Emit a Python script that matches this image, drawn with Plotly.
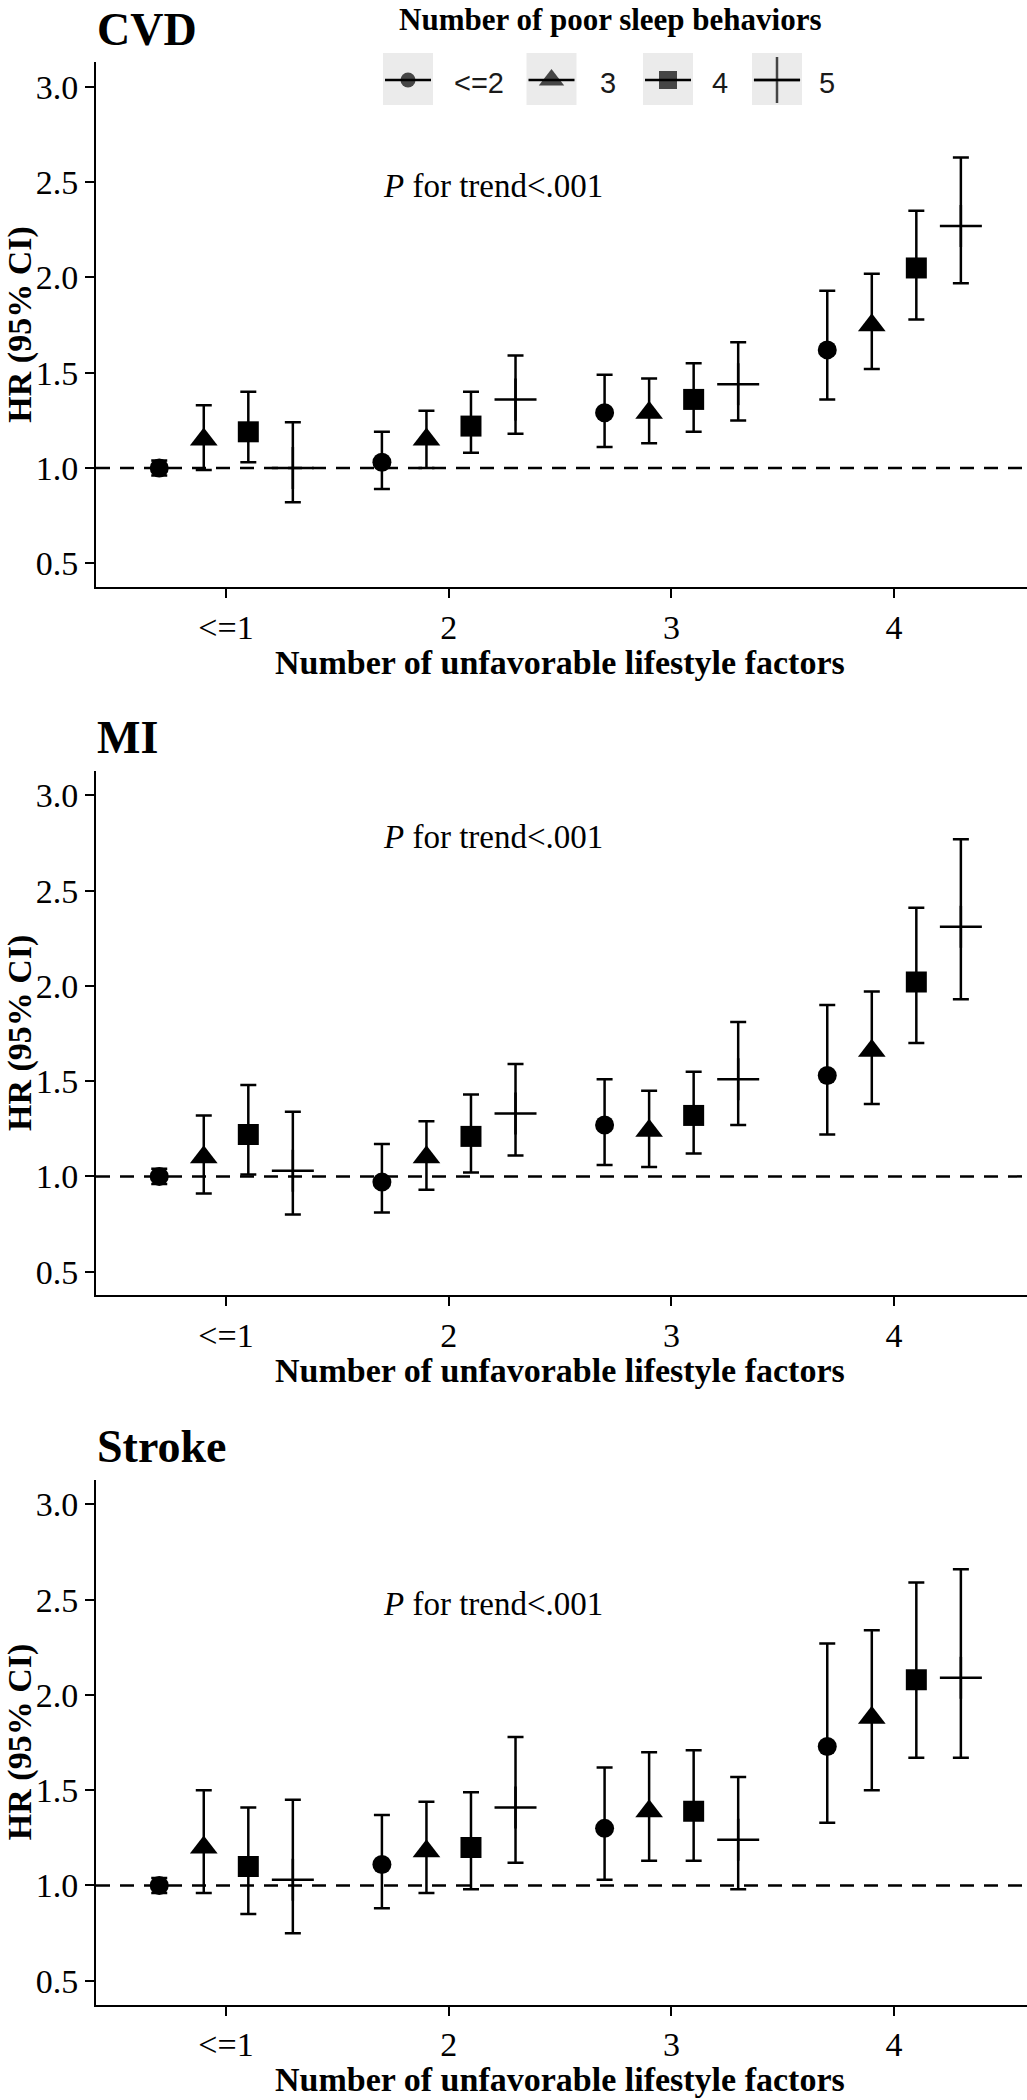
import plotly.graph_objects as go

W, H = 1027, 2100

# ---------------- data ----------------
lifestyle_labels = ["&lt;=1", "2", "3", "4"]
lifestyle_pos = [1, 2, 3, 4]
sleep_groups = ["&lt;=2", "3", "4", "5"]
dodge = [-0.3, -0.1, 0.1, 0.3]
panels = ["CVD", "MI", "Stroke"]

# CVD
cvd_hr = {"<=2": [1.00, 1.03, 1.29, 1.62], "3": [1.15, 1.15, 1.29, 1.75],
          "4": [1.19, 1.22, 1.36, 2.05], "5": [1.00, 1.36, 1.44, 2.27]}
cvd_lo = {"<=2": [0.96, 0.89, 1.11, 1.36], "3": [0.99, 1.00, 1.13, 1.52],
          "4": [1.03, 1.08, 1.19, 1.78], "5": [0.82, 1.18, 1.25, 1.97]}
cvd_hi = {"<=2": [1.04, 1.19, 1.49, 1.93], "3": [1.33, 1.30, 1.47, 2.02],
          "4": [1.40, 1.40, 1.55, 2.35], "5": [1.24, 1.59, 1.66, 2.63]}
# MI
mi_hr = {"<=2": [1.00, 0.97, 1.27, 1.53], "3": [1.10, 1.10, 1.24, 1.66],
         "4": [1.22, 1.21, 1.32, 2.02], "5": [1.03, 1.33, 1.51, 2.31]}
mi_lo = {"<=2": [0.96, 0.81, 1.06, 1.22], "3": [0.91, 0.93, 1.05, 1.38],
         "4": [1.01, 1.02, 1.12, 1.70], "5": [0.80, 1.11, 1.27, 1.93]}
mi_hi = {"<=2": [1.04, 1.17, 1.51, 1.90], "3": [1.32, 1.29, 1.45, 1.97],
         "4": [1.48, 1.43, 1.55, 2.41], "5": [1.34, 1.59, 1.81, 2.77]}
# Stroke
stroke_hr = {"<=2": [1.00, 1.11, 1.30, 1.73], "3": [1.20, 1.18, 1.39, 1.88],
             "4": [1.10, 1.20, 1.39, 2.08], "5": [1.03, 1.41, 1.24, 2.09]}
stroke_lo = {"<=2": [0.96, 0.88, 1.03, 1.33], "3": [0.96, 0.96, 1.13, 1.50],
             "4": [0.85, 0.98, 1.13, 1.67], "5": [0.75, 1.12, 0.98, 1.67]}
stroke_hi = {"<=2": [1.04, 1.37, 1.62, 2.27], "3": [1.50, 1.44, 1.70, 2.34],
             "4": [1.41, 1.49, 1.71, 2.59], "5": [1.45, 1.78, 1.57, 2.66]}

trend_text = "<i>P</i> for trend&lt;.001"
trend_y = [2.48, 2.78, 2.48]

y_ticks = [0.5, 1.0, 1.5, 2.0, 2.5, 3.0]
# --------------------------------------

panel_data = [(cvd_hr, cvd_lo, cvd_hi), (mi_hr, mi_lo, mi_hi), (stroke_hr, stroke_lo, stroke_hi)]
keys = ["<=2", "3", "4", "5"]
symbols = ["circle", "triangle-up", "square", "cross-thin"]
sizes = [19, 24, 21, 30]

SERIF = "Liberation Serif"
SANS = "Liberation Sans"

def px(y):
    return 1 - y / H

def pxx(x):
    return x / W

YR = [0.375, 3.13]
UNIT = 190.5
y3 = [87, 795.4, 1504.5]  # pixel row of the 3.0 tick per panel
dom = []
for t in y3:
    top = t - (YR[1] - 3.0) * UNIT
    bot = t + (3.0 - YR[0]) * UNIT
    dom.append((top, bot))

fig = go.Figure()
annotations = []
shapes = []

for p, (hr, lo, hi) in enumerate(panel_data):
    xa = "x" if p == 0 else f"x{p+1}"
    ya = "y" if p == 0 else f"y{p+1}"
    for g, k in enumerate(keys):
        xs = [c + dodge[g] for c in lifestyle_pos]
        ys = hr[k]
        up = [h - v for h, v in zip(hi[k], ys)]
        dn = [v - l for v, l in zip(ys, lo[k])]
        fig.add_trace(go.Scatter(
            x=xs, y=ys, mode="markers", xaxis=xa, yaxis=ya, showlegend=False,
            marker=dict(symbol=symbols[g], size=sizes[g], color="black",
                        line=dict(color="black", width=2.5 if symbols[g] == "cross-thin" else 0)),
            error_y=dict(type="data", symmetric=False, array=up, arrayminus=dn,
                         width=8, thickness=2.5, color="black"),
        ))
    # reference line at HR = 1
    shapes.append(dict(type="line", xref=f"{xa} domain", yref=ya, x0=0, x1=1, y0=1, y1=1,
                       line=dict(color="black", width=2.5, dash="14px,10px"), layer="below"))
    top, bot = dom[p]
    # panel title
    annotations.append(dict(text=f"<b>{panels[p]}</b>", xref="paper", yref="paper",
                            x=pxx(95), y=px(top - 33), xanchor="left", yanchor="middle",
                            showarrow=False, font=dict(family=SERIF, size=46, color="black")))
    # y title
    annotations.append(dict(text="<b>HR (95% CI)</b>", xref="paper", yref="paper",
                            x=pxx(20), y=px((top + bot) / 2), xanchor="center", yanchor="middle",
                            textangle=-90, showarrow=False,
                            font=dict(family=SERIF, size=34, color="black")))
    # x title
    annotations.append(dict(text="<b>Number of unfavorable lifestyle factors</b>", xref="paper", yref="paper",
                            x=pxx(560), y=px(bot + 75), xanchor="center", yanchor="middle",
                            showarrow=False, font=dict(family=SERIF, size=34, color="black")))
    # trend text
    annotations.append(dict(text=trend_text, xref=xa, yref=ya, x=2.2, y=trend_y[p],
                            xanchor="center", yanchor="middle", showarrow=False,
                            font=dict(family=SERIF, size=33, color="black")))

axis_common = dict(showline=True, linecolor="black", linewidth=2, ticks="outside",
                   ticklen=9, tickwidth=2, tickcolor="black", showgrid=False, zeroline=False,
                   tickfont=dict(family=SERIF, size=34, color="black"), fixedrange=True)

layout = dict(width=W, height=H, margin=dict(l=0, r=0, t=0, b=0, autoexpand=False),
              paper_bgcolor="white", plot_bgcolor="rgba(0,0,0,0)", showlegend=False)
for p in range(3):
    top, bot = dom[p]
    sfx = "" if p == 0 else str(p + 1)
    layout[f"xaxis{sfx}"] = dict(axis_common, domain=[pxx(96), 1.0], range=[0.416, 4.597],
                                 tickvals=lifestyle_pos, ticktext=lifestyle_labels,
                                 anchor=f"y{sfx}")
    layout[f"yaxis{sfx}"] = dict(axis_common, domain=[px(bot), px(top)], range=YR,
                                 tickvals=y_ticks, ticktext=[f"{v:.1f}" for v in y_ticks],
                                 anchor=f"x{sfx}")

# ---- legend (manual, ggplot style keys) ----
layout["xaxis4"] = dict(domain=[pxx(360), pxx(860)], range=[360, 860], visible=False,
                        fixedrange=True, anchor="y4")
layout["yaxis4"] = dict(domain=[px(110), px(45)], range=[110, 45], visible=False,
                        fixedrange=True, anchor="x4")
key_cx = [408, 551.5, 668, 777]
label_cx = [479, 607.5, 719.5, 826.5]
key_cy = 79
for g in range(4):
    shapes.append(dict(type="rect", xref="x4", yref="y4", x0=key_cx[g] - 25, x1=key_cx[g] + 25,
                       y0=key_cy - 26, y1=key_cy + 26, fillcolor="#ebebeb", line=dict(width=0),
                       layer="below"))
    shapes.append(dict(type="line", xref="x4", yref="y4", x0=key_cx[g] - 23, x1=key_cx[g] + 23,
                       y0=key_cy + 1, y1=key_cy + 1, line=dict(color="black", width=2.5),
                       layer="below"))
    annotations.append(dict(text=sleep_groups[g], xref="x4", yref="y4", x=label_cx[g], y=key_cy + 4,
                            xanchor="center", yanchor="middle", showarrow=False,
                            font=dict(family=SANS, size=29, color="#1a1a1a")))
fig.add_trace(go.Scatter(x=key_cx, y=[key_cy + 1] * 4, xaxis="x4", yaxis="y4", mode="markers",
                         showlegend=False, hoverinfo="skip",
                         marker=dict(symbol=symbols, size=[15, 22, 18, 33], color="black",
                                     line=dict(color="black", width=[0, 0, 0, 2.5]))))
annotations.append(dict(text="<b>Number of poor sleep behaviors</b>", xref="paper", yref="paper",
                        x=pxx(610), y=px(19), xanchor="center", yanchor="middle", showarrow=False,
                        font=dict(family=SERIF, size=31, color="black")))

layout["annotations"] = annotations
layout["shapes"] = shapes
fig.update_layout(**layout)
fig.write_html("out.html", config={"displayModeBar": False, "staticPlot": True},
               post_script="document.body.style.margin='0';document.body.style.padding='0';")
